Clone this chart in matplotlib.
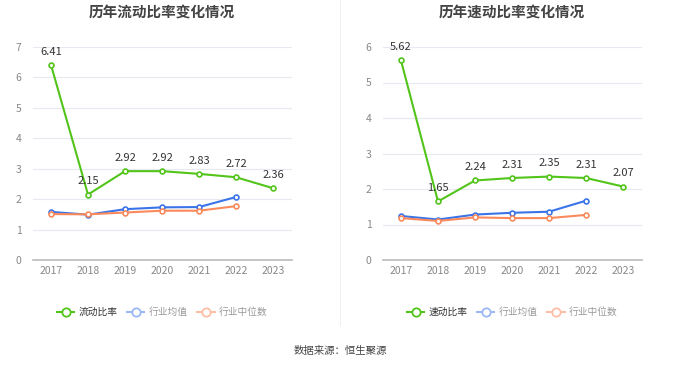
import matplotlib
matplotlib.use('Agg')
import matplotlib.pyplot as plt
from matplotlib.lines import Line2D

plt.rcParams['font.family'] = ['Noto Sans CJK SC', 'DejaVu Sans']

years = ['2017', '2018', '2019', '2020', '2021', '2022', '2023']

# current ratio
current = [6.41, 2.15, 2.92, 2.92, 2.83, 2.72, 2.36]
current_avg = [1.58, 1.49, 1.67, 1.73, 1.74, 2.07]
current_med = [1.51, 1.50, 1.56, 1.62, 1.62, 1.77]

# quick ratio
quick = [5.62, 1.65, 2.24, 2.31, 2.35, 2.31, 2.07]
quick_avg = [1.24, 1.14, 1.28, 1.33, 1.36, 1.67]
quick_med = [1.18, 1.10, 1.20, 1.18, 1.18, 1.27]

green = '#52c41a'
blue = '#3b74e8'
orange = '#fa8a5c'

fig = plt.figure(figsize=(6.8, 3.67), dpi=100)


def draw(ax, main, avg, med, ymax, title, name):
    x = list(range(len(years)))
    ax.plot(x[:len(avg)], avg, color=blue, lw=1.5, marker='o', ms=3.5,
            mfc='white', mec=blue, mew=1.2, zorder=3)
    ax.plot(x[:len(med)], med, color=orange, lw=1.5, marker='o', ms=3.5,
            mfc='white', mec=orange, mew=1.2, zorder=3)
    ax.plot(x, main, color=green, lw=1.5, marker='o', ms=3.5,
            mfc='white', mec=green, mew=1.2, zorder=4)
    for i, v in enumerate(main):
        ax.annotate('%.2f' % v, (i, v), xytext=(0, 6), textcoords='offset points',
                    ha='center', va='bottom', fontsize=8, color='#333333', zorder=5)
    ax.set_xlim(-0.5, len(years) - 0.5)
    ax.set_ylim(0, ymax)
    ax.set_yticks(range(ymax + 1))
    ax.set_xticks(x)
    ax.set_xticklabels(years)
    ax.tick_params(axis='both', labelsize=7.5, colors='#888888', length=0)
    ax.tick_params(axis='x', pad=4)
    ax.tick_params(axis='y', pad=8)
    ax.grid(axis='y', color='#e6e9f0', lw=0.8)
    ax.set_axisbelow(True)
    for s in ['top', 'right', 'left']:
        ax.spines[s].set_visible(False)
    ax.spines['bottom'].set_color('#bbbbbb')
    ax.spines['bottom'].set_linewidth(1.2)
    pos = ax.get_position()
    fig.text(pos.x0 + pos.width / 2, 1 - 12 / 367, title, ha='center', va='center',
             fontsize=10.5, fontweight='bold', color='#444444')
    handles = [
        Line2D([], [], color=green, lw=1.5, marker='o', ms=6, mfc='white', mec=green, mew=1.3),
        Line2D([], [], color='#9bb8f5', lw=1.5, marker='o', ms=6, mfc='white', mec='#9bb8f5', mew=1.3),
        Line2D([], [], color='#fcbfa6', lw=1.5, marker='o', ms=6, mfc='white', mec='#fcbfa6', mew=1.3),
    ]
    leg = ax.legend(handles, [name, '行业均值', '行业中位数'], loc='upper center',
                    bbox_to_anchor=(0.5, -0.18), ncol=3, frameon=False, fontsize=7,
                    handlelength=1.8, handletextpad=0.4, columnspacing=1.0)
    cols = ['#333333', '#999999', '#999999']
    for t, c in zip(leg.get_texts(), cols):
        t.set_color(c)


ax1 = fig.add_axes([32.5 / 680, 107 / 367, 259 / 680, 213 / 367])
draw(ax1, current, current_avg, current_med, 7, '历年流动比率变化情况', '流动比率')

ax2 = fig.add_axes([382.5 / 680, 107 / 367, 259 / 680, 213 / 367])
draw(ax2, quick, quick_avg, quick_med, 6, '历年速动比率变化情况', '速动比率')

fig.add_artist(Line2D([340 / 680, 340 / 680], [1 - 325 / 367, 1.0], color='#f0f0f0', lw=0.8))
fig.text(0.5, 1 - 351 / 367, '数据来源：恒生聚源', ha='center', va='center', fontsize=7.5, color='#444444')

fig.savefig('out.png', dpi=100)
